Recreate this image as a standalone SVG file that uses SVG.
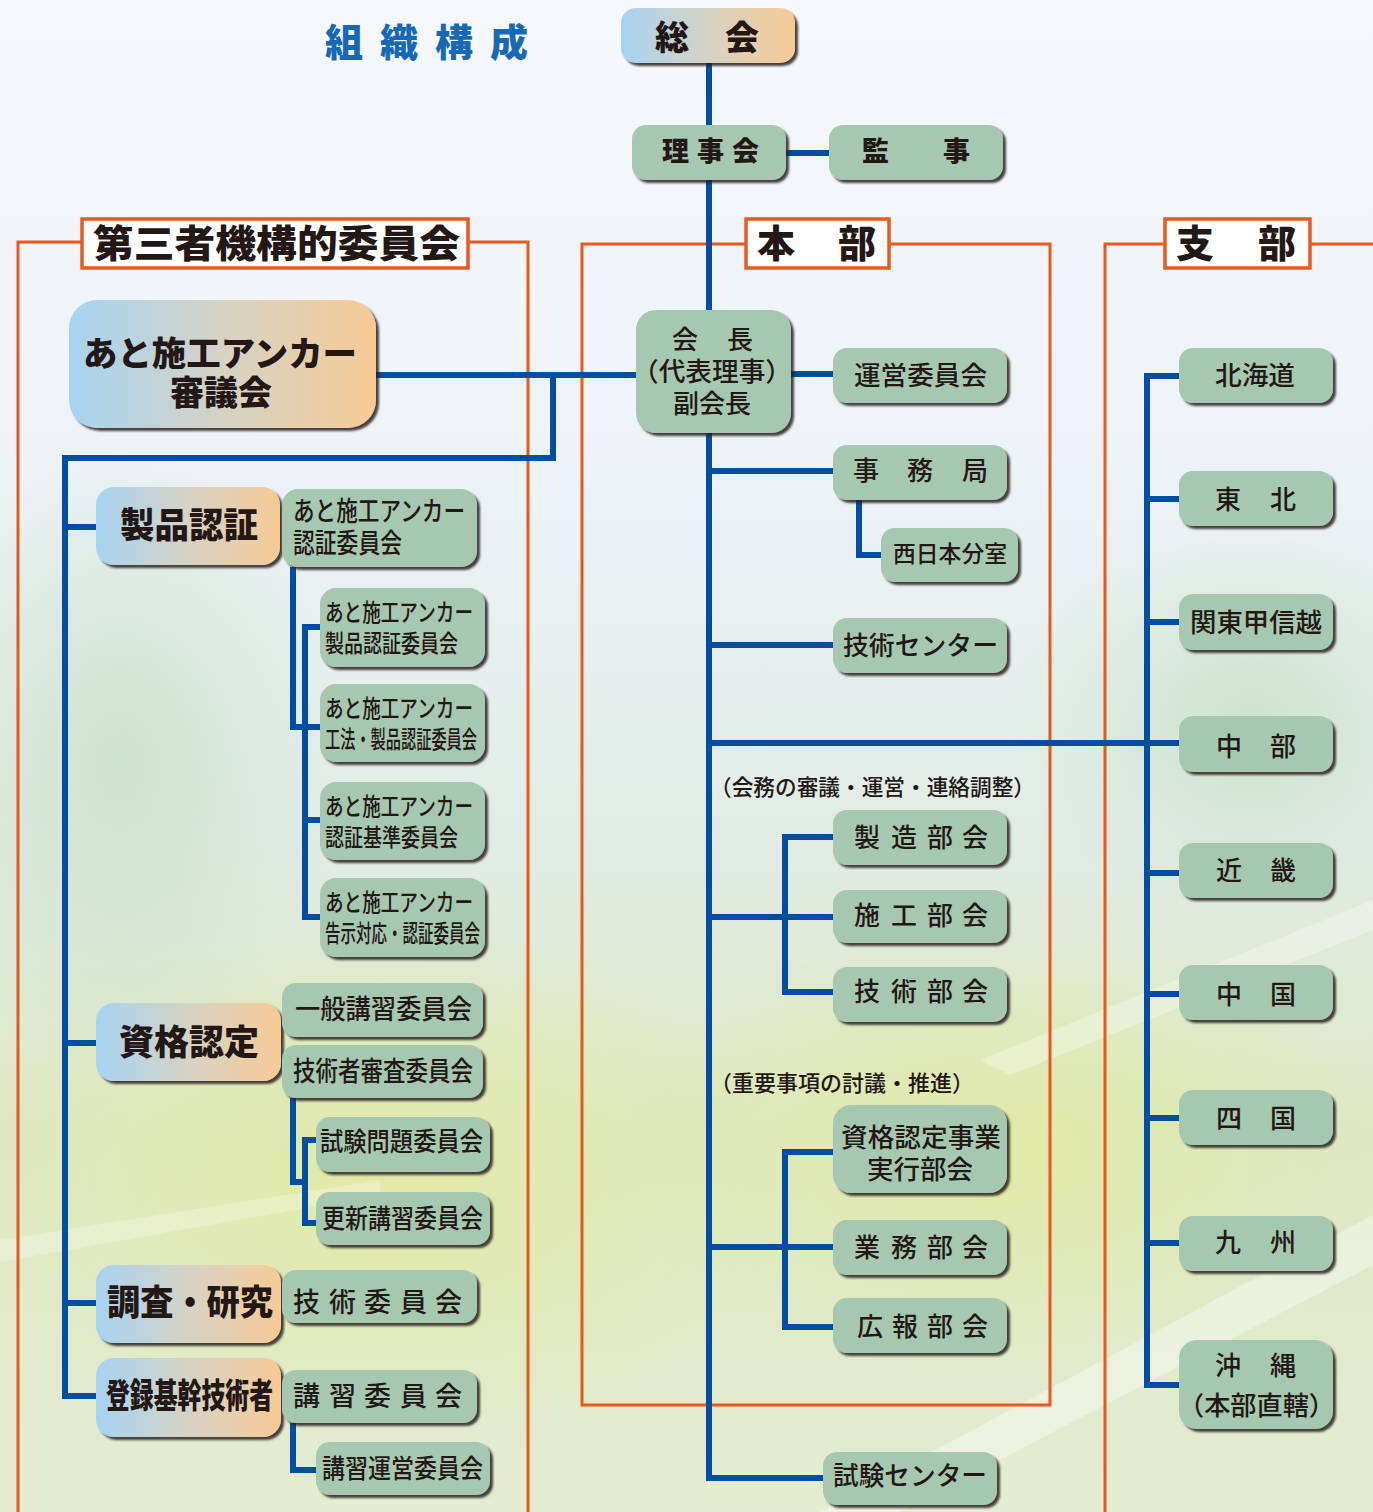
<svg xmlns="http://www.w3.org/2000/svg" width="1373" height="1512" viewBox="0 0 1373 1512">
<defs>
  <linearGradient id="bg" x1="0" y1="0" x2="0" y2="1">
    <stop offset="0" stop-color="#f6f8fb"/>
    <stop offset="0.3" stop-color="#edf3f7"/>
    <stop offset="0.55" stop-color="#e1ece6"/>
    <stop offset="0.75" stop-color="#dde8c4"/>
    <stop offset="1" stop-color="#e4ecd2"/>
  </linearGradient>
  <radialGradient id="blob1" cx="0.5" cy="0.5" r="0.5">
    <stop offset="0" stop-color="#e2eaa2" stop-opacity="0.9"/>
    <stop offset="1" stop-color="#e2eaa2" stop-opacity="0"/>
  </radialGradient>
  <radialGradient id="blob2" cx="0.5" cy="0.5" r="0.5">
    <stop offset="0" stop-color="#c9e0c8" stop-opacity="0.8"/>
    <stop offset="1" stop-color="#c9e0c8" stop-opacity="0"/>
  </radialGradient>
  <linearGradient id="gr" x1="0" y1="0" x2="1" y2="0">
    <stop offset="0" stop-color="#a6d3f2"/>
    <stop offset="0.5" stop-color="#d6d3c5"/>
    <stop offset="1" stop-color="#f7ca95"/>
  </linearGradient>
  <filter id="sh" x="-10%" y="-10%" width="130%" height="140%">
    <feDropShadow dx="3" dy="3" stdDeviation="1.2" flood-color="#2a2420" flood-opacity="0.85"/>
  </filter>
  <style>
    .g { fill: #a6c8b1; filter: url(#sh); }
    .gd { fill: url(#gr); filter: url(#sh); }
    .lab { fill: #ffffff; stroke: #e8591d; stroke-width: 3.5; }
    .fr { fill: none; stroke: #e8591d; stroke-width: 3; }
    .cn path { fill: none; stroke: #004ea2; stroke-width: 6; stroke-linejoin: miter; stroke-linecap: butt; }
    text { font-family: "Noto Sans CJK JP", "Noto Sans", sans-serif; fill: #231815; }
    .tb { font-weight: 900; }
    .tm { font-weight: 500; }
    .s38 { font-size: 38px; }
    .s34 { font-size: 34px; }
    .s35 { font-size: 35px; }
    .s27 { font-size: 27px; }
    .s26 { font-size: 26px; }
    .s24 { font-size: 24px; }
    .s23 { font-size: 23px; }
    .s22 { font-size: 22px; }
  </style>
</defs>

<!-- background -->
<rect x="0" y="0" width="1373" height="1512" fill="url(#bg)"/>
<ellipse cx="380" cy="1180" rx="420" ry="260" fill="url(#blob1)"/>
<ellipse cx="1000" cy="1150" rx="380" ry="220" fill="url(#blob1)"/>
<ellipse cx="120" cy="760" rx="220" ry="320" fill="url(#blob2)"/>
<ellipse cx="1250" cy="720" rx="240" ry="200" fill="url(#blob2)"/>
<path d="M820 1512 L1373 1215 L1373 1265 L900 1512 Z" fill="#ffffff" opacity="0.35"/>
<path d="M980 1060 L1373 900 L1373 930 L1010 1075 Z" fill="#ffffff" opacity="0.3"/>
<path d="M0 1240 L380 1180 L380 1195 L0 1262 Z" fill="#ffffff" opacity="0.25"/>

<!-- title -->
<text class="tb s38" x="325 380 435 490" y="56" style="fill:#1769b5">組織構成</text>

<!-- orange frames -->
<g id="frames">
  <path class="fr" d="M18 1512 V242 H82 M468 242 H528 V1512"/>
  <path class="fr" d="M746 244 H582 V1405 H1050 V244 H889"/>
  <path class="fr" d="M1105 1512 V244 H1165 M1310 244 H1373"/>
</g>

<!-- connectors -->
<g id="connectors" class="cn">
  <path d="M709 63 V310"/>
  <path d="M786 153 H829"/>
  <path d="M376 375 H636"/>
  <path d="M553 375 V458 H65 V1399"/>
  <path d="M62 527 H96"/>
  <path d="M62 1043 H96"/>
  <path d="M62 1303 H96"/>
  <path d="M62 1396 H96"/>
  <path d="M293 567 V727 H320"/>
  <path d="M305 627 V920"/>
  <path d="M302 627 H320"/>
  <path d="M302 820 H320"/>
  <path d="M302 917 H320"/>
  <path d="M293 1098 V1182 H305"/>
  <path d="M305 1140 V1226"/>
  <path d="M302 1140 H316"/>
  <path d="M302 1223 H316"/>
  <path d="M293 1423 V1470 H316"/>
  <path d="M791 374 H833"/>
  <path d="M709 433 V1478 H823"/>
  <path d="M709 471 H833"/>
  <path d="M859 500 V555 H881"/>
  <path d="M709 645 H833"/>
  <path d="M709 743 H1179"/>
  <path d="M709 917 H833"/>
  <path d="M785 837 V992 H833"/>
  <path d="M782 837 H833"/>
  <path d="M709 1247 H833"/>
  <path d="M785 1152 V1327 H833"/>
  <path d="M782 1152 H833"/>
  <path d="M1147 376 V1385 H1179"/>
  <path d="M1144 376 H1179"/>
  <path d="M1147 499 H1179"/>
  <path d="M1147 622 H1179"/>
  <path d="M1147 873 H1179"/>
  <path d="M1147 994 H1179"/>
  <path d="M1147 1118 H1179"/>
  <path d="M1147 1243 H1179"/>
</g>

<!-- frame labels -->
<g id="label-daisansha">
  <rect class="lab" x="82" y="219" width="386" height="49"/>
  <text class="tb s38" x="93" y="257" textLength="367" lengthAdjust="spacingAndGlyphs">第三者機構的委員会</text>
</g>
<g id="label-honbu">
  <rect class="lab" x="746" y="219" width="143" height="49"/>
  <text class="tb s38" x="757 838" y="257">本部</text>
</g>
<g id="label-shibu">
  <rect class="lab" x="1165" y="219" width="145" height="49"/>
  <text class="tb s38" x="1176 1258" y="257">支部</text>
</g>

<!-- top nodes -->
<g id="soukai">
  <rect class="gd" x="621" y="8" width="174" height="55" rx="15"/>
  <text class="tb s34" x="655 725" y="50">総会</text>
</g>
<g id="rijikai">
  <rect class="g" x="632" y="125" width="154" height="55" rx="14"/>
  <text class="tb s27" x="662 697 732" y="161">理事会</text>
</g>
<g id="kanji">
  <rect class="g" x="829" y="125" width="174" height="55" rx="14"/>
  <text class="tb s27" x="862 943" y="161">監事</text>
</g>

<!-- left side -->
<g id="shingikai">
  <rect class="gd" x="69" y="300" width="307" height="128" rx="28"/>
  <text class="tb s34" x="83" y="366" textLength="274" lengthAdjust="spacingAndGlyphs">あと施工アンカー</text>
  <text class="tb s34" x="221" y="405" text-anchor="middle">審議会</text>
</g>
<g id="seihin-ninsho">
  <rect class="gd" x="96" y="487" width="184" height="78" rx="18"/>
  <text class="tb s35" x="120" y="538" textLength="138" lengthAdjust="spacingAndGlyphs">製品認証</text>
</g>
<g id="ninsho-iinkai">
  <rect class="g" x="282" y="489" width="195" height="78" rx="16"/>
  <text class="tm s27" x="293" y="521" textLength="172" lengthAdjust="spacingAndGlyphs">あと施工アンカー</text>
  <text class="tm s27" x="293" y="553" textLength="109" lengthAdjust="spacingAndGlyphs">認証委員会</text>
</g>
<g id="seihin-ninsho-iinkai">
  <rect class="g" x="320" y="588" width="165" height="79" rx="16"/>
  <text class="tm s24" x="325" y="621" textLength="148" lengthAdjust="spacingAndGlyphs">あと施工アンカー</text>
  <text class="tm s24" x="325" y="652" textLength="133" lengthAdjust="spacingAndGlyphs">製品認証委員会</text>
</g>
<g id="kouhou-seihin-ninsho-iinkai">
  <rect class="g" x="320" y="684" width="165" height="78" rx="16"/>
  <text class="tm s24" x="325" y="717" textLength="148" lengthAdjust="spacingAndGlyphs">あと施工アンカー</text>
  <text class="tm s24" x="325" y="748" textLength="152" lengthAdjust="spacingAndGlyphs">工法・製品認証委員会</text>
</g>
<g id="ninsho-kijun-iinkai">
  <rect class="g" x="320" y="782" width="165" height="78" rx="16"/>
  <text class="tm s24" x="325" y="815" textLength="148" lengthAdjust="spacingAndGlyphs">あと施工アンカー</text>
  <text class="tm s24" x="325" y="846" textLength="133" lengthAdjust="spacingAndGlyphs">認証基準委員会</text>
</g>
<g id="kokuji-ninsho-iinkai">
  <rect class="g" x="320" y="878" width="165" height="79" rx="16"/>
  <text class="tm s24" x="325" y="911" textLength="148" lengthAdjust="spacingAndGlyphs">あと施工アンカー</text>
  <text class="tm s24" x="325" y="942" textLength="155" lengthAdjust="spacingAndGlyphs">告示対応・認証委員会</text>
</g>

<g id="shikaku-nintei">
  <rect class="gd" x="96" y="1003" width="185" height="78" rx="18"/>
  <text class="tb s35" x="119" y="1055" textLength="140" lengthAdjust="spacingAndGlyphs">資格認定</text>
</g>
<g id="ippan-koushu">
  <rect class="g" x="282" y="983" width="201" height="54" rx="14"/>
  <text class="tm s27" x="295" y="1019" textLength="177" lengthAdjust="spacingAndGlyphs">一般講習委員会</text>
</g>
<g id="gijutsusha-shinsa">
  <rect class="g" x="282" y="1045" width="201" height="53" rx="14"/>
  <text class="tm s27" x="293" y="1081" textLength="180" lengthAdjust="spacingAndGlyphs">技術者審査委員会</text>
</g>
<g id="shiken-mondai">
  <rect class="g" x="316" y="1117" width="174" height="55" rx="14"/>
  <text class="tm s26" x="320" y="1151" textLength="163" lengthAdjust="spacingAndGlyphs">試験問題委員会</text>
</g>
<g id="koushin-koushu">
  <rect class="g" x="316" y="1192" width="174" height="53" rx="14"/>
  <text class="tm s26" x="322" y="1228" textLength="161" lengthAdjust="spacingAndGlyphs">更新講習委員会</text>
</g>
<g id="chousa-kenkyu">
  <rect class="gd" x="96" y="1265" width="185" height="78" rx="18"/>
  <text class="tb s35" x="107" y="1315" textLength="166" lengthAdjust="spacingAndGlyphs">調査・研究</text>
</g>
<g id="gijutsu-iinkai">
  <rect class="g" x="282" y="1270" width="195" height="53" rx="14"/>
  <text class="tm s27" x="293 329 364 400 435" y="1312">技術委員会</text>
</g>
<g id="touroku-kikan">
  <rect class="gd" x="96" y="1358" width="185" height="79" rx="18"/>
  <text class="tb s34" x="106" y="1408" textLength="167" lengthAdjust="spacingAndGlyphs">登録基幹技術者</text>
</g>
<g id="koushu-iinkai">
  <rect class="g" x="282" y="1370" width="195" height="53" rx="14"/>
  <text class="tm s27" x="293 329 364 400 435" y="1406">講習委員会</text>
</g>
<g id="koushu-unei">
  <rect class="g" x="316" y="1442" width="174" height="53" rx="14"/>
  <text class="tm s26" x="322" y="1478" textLength="161" lengthAdjust="spacingAndGlyphs">講習運営委員会</text>
</g>

<!-- middle -->
<g id="kaichou">
  <rect class="g" x="636" y="310" width="155" height="123" rx="20"/>
  <text class="tm s26" x="672 727" y="349">会長</text>
  <text class="tm s26" x="632" y="381" textLength="160" lengthAdjust="spacingAndGlyphs">（代表理事）</text>
  <text class="tm s26" x="712" y="413" text-anchor="middle">副会長</text>
</g>
<g id="unei-iinkai">
  <rect class="g" x="833" y="348" width="174" height="55" rx="14"/>
  <text class="tm s26" x="854" y="385" textLength="133" lengthAdjust="spacingAndGlyphs">運営委員会</text>
</g>
<g id="jimukyoku">
  <rect class="g" x="833" y="445" width="174" height="55" rx="14"/>
  <text class="tm s26" x="853 907 962" y="480">事務局</text>
</g>
<g id="nishinihon">
  <rect class="g" x="881" y="528" width="137" height="54" rx="14"/>
  <text class="tm s23" x="893" y="562" textLength="114" lengthAdjust="spacingAndGlyphs">西日本分室</text>
</g>
<g id="gijutsu-center">
  <rect class="g" x="833" y="618" width="174" height="55" rx="14"/>
  <text class="tm s26" x="843" y="655" textLength="155" lengthAdjust="spacingAndGlyphs">技術センター</text>
</g>
<text class="tm s22" x="710" y="795" textLength="325" lengthAdjust="spacingAndGlyphs">（会務の審議・運営・連絡調整）</text>
<g id="seizou-bukai">
  <rect class="g" x="833" y="810" width="174" height="55" rx="14"/>
  <text class="tm s26" x="854 891 927 962" y="847">製造部会</text>
</g>
<g id="sekou-bukai">
  <rect class="g" x="833" y="890" width="174" height="53" rx="14"/>
  <text class="tm s26" x="854 891 927 962" y="925">施工部会</text>
</g>
<g id="gijutsu-bukai">
  <rect class="g" x="833" y="967" width="174" height="55" rx="14"/>
  <text class="tm s26" x="854 891 927 962" y="1001">技術部会</text>
</g>
<text class="tm s22" x="710" y="1091" textLength="264" lengthAdjust="spacingAndGlyphs">（重要事項の討議・推進）</text>
<g id="shikaku-jigyou">
  <rect class="g" x="833" y="1105" width="174" height="88" rx="18"/>
  <text class="tm s26" x="841" y="1147" textLength="160" lengthAdjust="spacingAndGlyphs">資格認定事業</text>
  <text class="tm s26" x="867" y="1179" textLength="106" lengthAdjust="spacingAndGlyphs">実行部会</text>
</g>
<g id="gyoumu-bukai">
  <rect class="g" x="833" y="1220" width="174" height="55" rx="14"/>
  <text class="tm s26" x="854 891 927 962" y="1257">業務部会</text>
</g>
<g id="kouhou-bukai">
  <rect class="g" x="833" y="1298" width="174" height="55" rx="14"/>
  <text class="tm s26" x="857 892 927 962" y="1336">広報部会</text>
</g>
<g id="shiken-center">
  <rect class="g" x="823" y="1452" width="174" height="53" rx="14"/>
  <text class="tm s26" x="833" y="1485" textLength="154" lengthAdjust="spacingAndGlyphs">試験センター</text>
</g>

<!-- right: branches -->
<g id="hokkaido">
  <rect class="g" x="1179" y="348" width="154" height="55" rx="14"/>
  <text class="tm s26" x="1215" y="385" textLength="80" lengthAdjust="spacingAndGlyphs">北海道</text>
</g>
<g id="tohoku">
  <rect class="g" x="1179" y="471" width="154" height="55" rx="14"/>
  <text class="tm s26" x="1215 1270" y="509">東北</text>
</g>
<g id="kantou">
  <rect class="g" x="1179" y="594" width="154" height="56" rx="14"/>
  <text class="tm s26" x="1190" y="632" textLength="132" lengthAdjust="spacingAndGlyphs">関東甲信越</text>
</g>
<g id="chubu">
  <rect class="g" x="1179" y="716" width="154" height="56" rx="14"/>
  <text class="tm s26" x="1216 1270" y="756">中部</text>
</g>
<g id="kinki">
  <rect class="g" x="1179" y="843" width="154" height="55" rx="14"/>
  <text class="tm s26" x="1216 1270" y="880">近畿</text>
</g>
<g id="chugoku">
  <rect class="g" x="1179" y="965" width="154" height="55" rx="14"/>
  <text class="tm s26" x="1216 1270" y="1004">中国</text>
</g>
<g id="shikoku">
  <rect class="g" x="1179" y="1090" width="154" height="55" rx="14"/>
  <text class="tm s26" x="1216 1270" y="1128">四国</text>
</g>
<g id="kyushu">
  <rect class="g" x="1179" y="1216" width="154" height="55" rx="14"/>
  <text class="tm s26" x="1215 1270" y="1252">九州</text>
</g>
<g id="okinawa">
  <rect class="g" x="1179" y="1340" width="154" height="89" rx="18"/>
  <text class="tm s26" x="1215 1270" y="1375">沖縄</text>
  <text class="tm s26" x="1178" y="1415" textLength="157" lengthAdjust="spacingAndGlyphs">（本部直轄）</text>
</g>
</svg>
